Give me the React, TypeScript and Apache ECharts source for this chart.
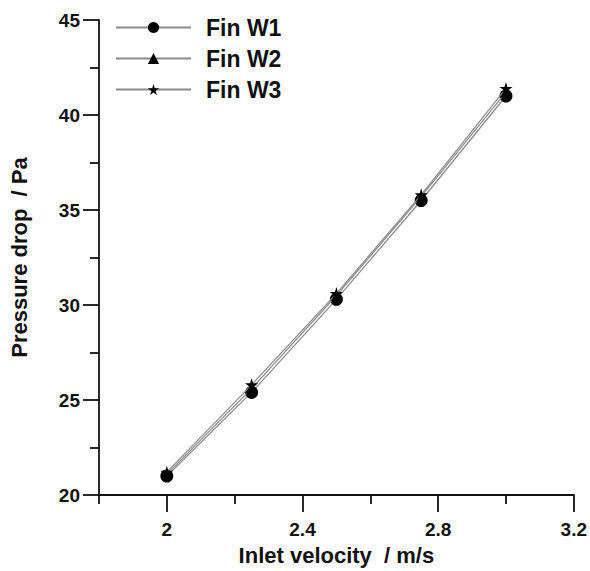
import React, { useEffect, useRef } from "react";
import * as echarts from "echarts";

const velocities = [2.0, 2.25, 2.5, 2.75, 3.0];
const finW1 = [21.0, 25.4, 30.3, 35.5, 41.0];
const finW2 = [21.1, 25.6, 30.5, 35.7, 41.2];
const finW3 = [21.2, 25.8, 30.6, 35.8, 41.4];
const seriesNames = ["Fin W1", "Fin W2", "Fin W3"];
const xMajorTicks = [2, 2.4, 2.8, 3.2];
const xMinorTicks = [1.8, 2.2, 2.6, 3.0];
const yMajorTicks = [20, 25, 30, 35, 40, 45];
const yMinorTicks = [22.5, 27.5, 32.5, 37.5, 42.5];

const STAR = "path://M50,0 L61,35 L98,35 L68,57 L79,91 L50,70 L21,91 L32,57 L2,35 L39,35 Z";
const FONT = "'Liberation Sans', Arial, sans-serif";
const INK = "#111";

export default function App() {
  const ref = useRef<HTMLDivElement>(null);
  useEffect(() => {
    document.body.style.margin = "0";
    const chart = echarts.init(ref.current!, null, { renderer: "svg" });
    const pair = (ys: number[]) => velocities.map((v, i) => [v, ys[i]]);
    const lineStyle = { color: "#8a8a8a", width: 1.2 };
    const titleStyle = { fontFamily: FONT, fontWeight: "bold", fontSize: 22, color: INK };
    const tickAxisX = (vals: number[], len: number) => ({
      type: "value",
      min: 1.8,
      max: 3.2,
      position: "bottom",
      offset: 0,
      axisLine: { show: false },
      axisTick: { show: true, customValues: vals, length: len, lineStyle: { color: INK, width: 1.8 } },
      axisLabel: { show: false },
      splitLine: { show: false },
    });
    const tickAxisY = (vals: number[], len: number) => ({
      type: "value",
      min: 20,
      max: 45,
      position: "left",
      offset: 0,
      axisLine: { show: false },
      axisTick: { show: true, customValues: vals, length: len, lineStyle: { color: INK, width: 1.8 } },
      axisLabel: { show: false },
      splitLine: { show: false },
    });
    chart.setOption({
      animation: false,
      backgroundColor: "#ffffff",
      grid: { left: 99, right: 16, top: 20, bottom: 74, containLabel: false },
      legend: {
        orient: "vertical",
        left: 110,
        top: 11,
        itemWidth: 75,
        itemHeight: 14,
        itemGap: 8,
        textStyle: { fontFamily: FONT, fontWeight: "bold", fontSize: 23, color: INK, padding: [0, 0, 0, 10] },
        data: seriesNames,
      },
      xAxis: [
        {
          type: "value",
          min: 1.8,
          max: 3.2,
          position: "bottom",
          name: "Inlet velocity  / m/s",
          nameLocation: "middle",
          nameGap: 49,
          nameTextStyle: titleStyle,
          axisLine: { show: true, lineStyle: { color: INK, width: 1.8 } },
          axisTick: { show: false },
          axisLabel: {
            customValues: xMajorTicks,
            margin: 25,
            fontFamily: FONT,
            fontWeight: "bold",
            fontSize: 19,
            color: INK,
            formatter: (v: number) => String(Math.round(v * 10) / 10),
          },
          splitLine: { show: false },
        },
        tickAxisX(xMajorTicks, 17),
        tickAxisX(xMinorTicks, 9),
      ],
      yAxis: [
        {
          type: "value",
          min: 20,
          max: 45,
          interval: 5,
          name: "Pressure drop  / Pa",
          nameLocation: "middle",
          nameGap: 69,
          nameRotate: 90,
          nameTextStyle: titleStyle,
          axisLine: { show: true, lineStyle: { color: INK, width: 1.8 } },
          axisTick: { show: false },
          axisLabel: { margin: 19, fontFamily: FONT, fontWeight: "bold", fontSize: 19, color: INK },
          splitLine: { show: false },
        },
        tickAxisY(yMajorTicks, 16),
        tickAxisY(yMinorTicks, 9),
      ],
      series: [
        {
          name: seriesNames[0],
          type: "line",
          data: pair(finW1),
          symbol: "circle",
          symbolSize: 13,
          itemStyle: { color: "#000" },
          lineStyle,
          z: 3,
        },
        {
          name: seriesNames[1],
          type: "line",
          data: pair(finW2),
          symbol: "triangle",
          symbolSize: 11,
          itemStyle: { color: "#000" },
          lineStyle,
          z: 4,
        },
        {
          name: seriesNames[2],
          type: "line",
          data: pair(finW3),
          symbol: STAR,
          symbolSize: 13,
          itemStyle: { color: "#000" },
          lineStyle,
          z: 5,
        },
      ],
    });
    return () => chart.dispose();
  }, []);
  return <div ref={ref} style={{ width: 590, height: 571 }} />;
}
